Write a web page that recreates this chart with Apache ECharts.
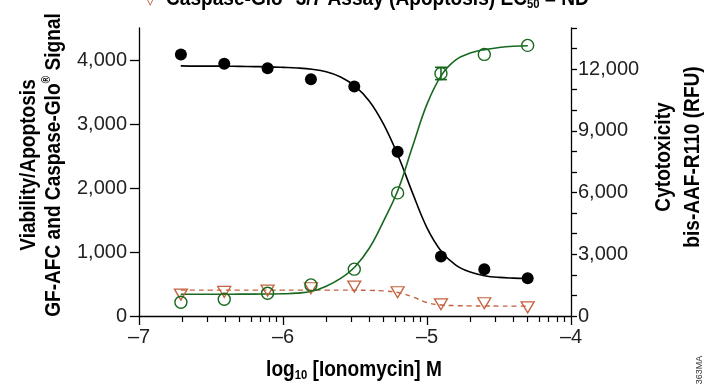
<!DOCTYPE html>
<html>
<head>
<meta charset="utf-8">
<script src="https://cdn.jsdelivr.net/npm/echarts@6/dist/echarts.min.js"></script>
<style>
  html, body { margin: 0; padding: 0; background: #fff; }
  #main { width: 706px; height: 387px; }
</style>
</head>
<body>
<div id="main"></div>
<script>
// log10 [Ionomycin] M, 2-fold dilution series
var logConc = [-6.709, -6.408, -6.107, -5.806, -5.505, -5.204, -4.903, -4.602, -4.301];
// viability GF-AFC (left axis, filled circles)
var viability = [4086, 3940, 3871, 3699, 3585, 2566, 929, 732, 591];
// apoptosis Caspase-Glo 3/7 (left axis, open triangles)
var apoptosis = [334, 376, 397, 434, 460, 371, 183, 199, 136];
// cytotoxicity bis-AAF-R110 (right axis, open circles)
var cytotox = [668, 815, 1107, 1512, 2278, 5985, 11790, 12717, 13155];
var cytotoxErr = [0, 0, 0, 0, 0, 0, 300, 0, 0];

// fitted curves
var fitX = [-6.71, -6.6, -6.5, -6.4, -6.3, -6.2, -6.1, -6.0, -5.9, -5.8, -5.7, -5.6, -5.5,
            -5.4, -5.3, -5.2, -5.1, -5.0, -4.9, -4.8, -4.7, -4.6, -4.5, -4.4, -4.3];
var fitViability = [3908, 3905, 3905, 3903, 3900, 3897, 3893, 3885, 3875, 3855, 3815, 3735, 3592,
                    3356, 2990, 2500, 1920, 1378, 1009, 796, 686, 630, 603, 592, 586];
var fitCytotox = [1060, 1060, 1060, 1060, 1062, 1065, 1070, 1080, 1110, 1200, 1450, 1825, 2396,
                  3306, 4641, 6150, 8250, 10300, 11700, 12450, 12780, 12950, 13050, 13110, 13140];
var fitApoptosis = [405, 405, 405, 405, 405, 405, 405, 405, 405, 405, 405, 405, 404,
                    400, 392, 367, 300, 210, 172, 162, 158, 156, 155, 155, 155];

// axis ticks
var xTicks = [-7, -6, -5, -4];
var leftTicks = [0, 1000, 2000, 3000, 4000];
var rightLabels = [0, 3000, 6000, 9000, 12000];
var rightTicks = [0, 1000, 2000, 3000, 4000, 5000, 6000, 7000, 8000, 9000, 10000, 11000, 12000, 13000, 14000];

var BLACK = '#000000';
var GREEN = '#18681f';
var RED = '#c4623f';
var BOLD = '"Liberation Sans", Arial, sans-serif';
var LABEL_FONT = '"Liberation Sans", Arial, sans-serif';
var TITLE_SIZE = 22;

// minor log ticks inside each decade
var xMinor = [];
for (var d = -7; d < -4; d++) {
  for (var k = 2; k <= 9; k++) xMinor.push(d + Math.log10(k));
}

function pairs(xs, ys) {
  return xs.map(function (x, i) { return [x, ys[i]]; });
}
function thousands(v) {
  return String(v).replace(/\B(?=(\d{3})+(?!\d))/g, ',');
}

// squeeze bold titles to look like a condensed face
var ctx = document.createElement('canvas').getContext('2d');
ctx.font = 'bold ' + TITLE_SIZE + 'px ' + BOLD;
var squeeze = 310 / ctx.measureText('GF-AFC and Caspase-Glo® Signal').width;

var chart = echarts.init(document.getElementById('main'), null, { renderer: 'canvas' });

var richSmall = {
  sup: { fontSize: 12, verticalAlign: 'top', fontWeight: 'bold', fontFamily: BOLD, padding: [0, 0, 8, 0] },
  sub: { fontSize: 13, fontWeight: 'bold', fontFamily: BOLD, padding: [10, 0, 0, 0] }
};

var option = {
  animation: false,
  backgroundColor: '#ffffff',
  grid: { left: 139, right: 135, top: 28, bottom: 71, containLabel: false },
  xAxis: [
    {
      type: 'value', min: -7, max: -4, interval: 1,
      position: 'bottom',
      axisLine: { lineStyle: { color: BLACK, width: 1.3 } },
      axisTick: { length: 9, lineStyle: { color: BLACK, width: 1.3 }, customValues: xTicks },
      axisLabel: {
        customValues: xTicks, margin: 11, fontSize: 20, color: '#222', fontFamily: LABEL_FONT,
        formatter: function (v) { return v < 0 ? '\u2013' + Math.abs(v) : String(v); }
      },
      splitLine: { show: false }
    },
    {
      type: 'value', min: -7, max: -4,
      position: 'bottom',
      axisLine: { show: false },
      axisTick: { length: 6, lineStyle: { color: BLACK, width: 1.2 }, customValues: xMinor },
      axisLabel: { show: false },
      splitLine: { show: false }
    }
  ],
  yAxis: [
    {
      type: 'value', min: 0, max: 4500,
      position: 'left',
      axisLine: { show: true, lineStyle: { color: BLACK, width: 1.3 } },
      axisTick: { show: true, length: 9, lineStyle: { color: BLACK, width: 1.3 }, customValues: leftTicks },
      axisLabel: {
        customValues: leftTicks, margin: 12, fontSize: 20, color: '#222', fontFamily: LABEL_FONT,
        formatter: thousands
      },
      splitLine: { show: false }
    },
    {
      type: 'value', min: 0, max: 14000,
      position: 'right',
      axisLine: { show: true, lineStyle: { color: BLACK, width: 1.3 } },
      axisTick: { show: true, length: 6, lineStyle: { color: BLACK, width: 1.3 }, customValues: rightTicks },
      axisLabel: {
        customValues: rightLabels, margin: 7, fontSize: 20, color: '#222', fontFamily: LABEL_FONT,
        formatter: thousands
      },
      splitLine: { show: false }
    }
  ],
  graphic: [
    // cut-off title at the top
    {
      type: 'text', x: 150, y: 0,
      style: { text: '▽', align: 'center', verticalAlign: 'middle', font: '16px ' + LABEL_FONT, fill: RED }
    },
    {
      type: 'text', x: 166, y: -1, scaleX: squeeze,
      style: {
        text: 'Caspase-Glo{sup|®} 3/7 Assay (Apoptosis) EC{sub|50} = ND',
        align: 'left', verticalAlign: 'middle',
        font: 'bold ' + TITLE_SIZE + 'px ' + BOLD, fill: '#000', rich: richSmall
      }
    },
    // left axis title
    {
      type: 'text', x: 41, y: 165, rotation: Math.PI / 2, scaleX: squeeze,
      style: {
        text: 'Viability/Apoptosis\nGF-AFC and Caspase-Glo{sup|®} Signal',
        align: 'center', verticalAlign: 'middle',
        font: 'bold ' + TITLE_SIZE + 'px ' + BOLD, fill: '#000', lineHeight: 25, rich: richSmall
      }
    },
    // right axis title
    {
      type: 'text', x: 678, y: 157, rotation: Math.PI / 2, scaleX: squeeze,
      style: {
        text: 'Cytotoxicity\nbis-AAF-R110 (RFU)',
        align: 'center', verticalAlign: 'middle',
        font: 'bold ' + TITLE_SIZE + 'px ' + BOLD, fill: '#000', lineHeight: 29
      }
    },
    // x axis title
    {
      type: 'text', x: 354, y: 370, scaleX: squeeze,
      style: {
        text: 'log{sub|10} [Ionomycin] M',
        align: 'center', verticalAlign: 'middle',
        font: 'bold ' + TITLE_SIZE + 'px ' + BOLD, fill: '#000', rich: richSmall
      }
    },
    {
      type: 'text', x: 700, y: 370, rotation: Math.PI / 2,
      style: { text: '363MA', align: 'center', verticalAlign: 'middle', font: '9px ' + LABEL_FONT, fill: '#333' }
    }
  ],
  series: [
    {
      name: 'fit apoptosis', type: 'line', xAxisIndex: 0, yAxisIndex: 0,
      data: pairs(fitX, fitApoptosis), smooth: 0.4, symbol: 'none',
      lineStyle: { color: RED, width: 1.4, type: [5, 4] }, z: 2
    },
    {
      name: 'fit viability', type: 'line', xAxisIndex: 0, yAxisIndex: 0,
      data: pairs(fitX, fitViability), smooth: 0.4, symbol: 'none',
      lineStyle: { color: BLACK, width: 1.6 }, z: 2
    },
    {
      name: 'fit cytotoxicity', type: 'line', xAxisIndex: 0, yAxisIndex: 1,
      data: pairs(fitX, fitCytotox), smooth: 0.4, symbol: 'none',
      lineStyle: { color: GREEN, width: 1.6 }, z: 2
    },
    {
      name: 'Caspase-Glo', type: 'scatter', xAxisIndex: 0, yAxisIndex: 0,
      data: pairs(logConc, apoptosis),
      symbol: 'triangle', symbolRotate: 180, symbolSize: [13, 11],
      itemStyle: { color: 'rgba(0,0,0,0)', borderColor: RED, borderWidth: 1.3, opacity: 1 }, z: 3
    },
    {
      name: 'bis-AAF-R110', type: 'scatter', xAxisIndex: 0, yAxisIndex: 1,
      data: pairs(logConc, cytotox),
      symbol: 'circle', symbolSize: 12,
      itemStyle: { color: 'rgba(0,0,0,0)', borderColor: GREEN, borderWidth: 1.4, opacity: 1 }, z: 4
    },
    {
      name: 'error', type: 'custom', xAxisIndex: 0, yAxisIndex: 1,
      data: logConc.map(function (x, i) { return [x, cytotox[i], cytotoxErr[i]]; }).filter(function (r) { return r[2] > 0; }),
      renderItem: function (params, api) {
        var x = api.value(0), y = api.value(1), e = api.value(2);
        var hi = api.coord([x, y + e]);
        var lo = api.coord([x, y - e]);
        var w = 6;
        var st = { stroke: GREEN, lineWidth: 1.6 };
        return {
          type: 'group',
          children: [
            { type: 'line', shape: { x1: hi[0], y1: hi[1], x2: lo[0], y2: lo[1] }, style: st },
            { type: 'line', shape: { x1: hi[0] - w, y1: hi[1], x2: hi[0] + w, y2: hi[1] }, style: st },
            { type: 'line', shape: { x1: lo[0] - w, y1: lo[1], x2: lo[0] + w, y2: lo[1] }, style: st }
          ]
        };
      },
      z: 4
    },
    {
      name: 'GF-AFC', type: 'scatter', xAxisIndex: 0, yAxisIndex: 0,
      data: pairs(logConc, viability),
      symbol: 'circle', symbolSize: 12,
      itemStyle: { color: BLACK, opacity: 1 }, z: 5
    }
  ]
};

chart.setOption(option);
</script>
</body>
</html>
